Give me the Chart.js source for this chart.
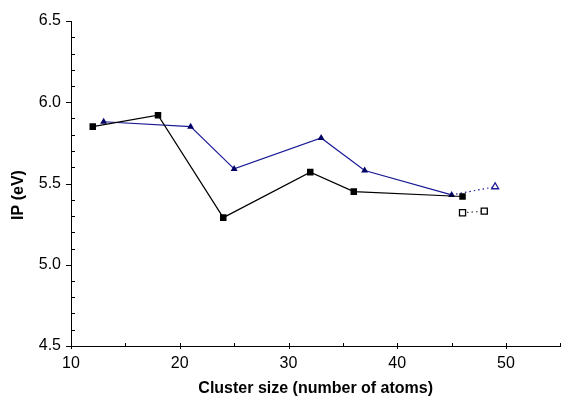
<!DOCTYPE html>
<html>
<head>
<meta charset="utf-8">
<script src="https://cdn.jsdelivr.net/npm/chart.js@4.4.1/dist/chart.umd.min.js"></script>
<style>
  html, body { margin: 0; padding: 0; background: #fff; }
  #wrap { width: 566px; height: 398px; }
</style>
</head>
<body>
<div id="wrap"><canvas id="chart"></canvas></div>
<script>
// black squares (filled) and open squares
const sizesSq = [12, 18, 24, 32, 36, 46];
const ipSq = [5.85, 5.92, 5.29, 5.57, 5.45, 5.42];
const sizesSqOpen = [46, 48];
const ipSqOpen = [5.32, 5.33];

// blue triangles (filled) and the dotted extension to the open one
const sizesTri = [13, 21, 25, 33, 37, 45];
const ipTri = [5.88, 5.85, 5.59, 5.78, 5.58, 5.43];
const sizesTriOpen = [45, 49];
const ipTriOpen = [5.43, 5.48];

const xTicks = [10, 20, 30, 40, 50];
const yTicks = [4.5, 5.0, 5.5, 6.0, 6.5];

const FONT = "'Liberation Sans', Arial, Helvetica, sans-serif";
const BLUE = "#1a1a96";

const toPoints = (xs, ys) => xs.map((x, i) => ({ x: x, y: ys[i] }));

// hand drawn tick marks: majors cross the axis, minors point inward
const tickMarks = {
  id: "tickMarks",
  afterDraw(chart) {
    const { ctx, scales: { x, y }, chartArea } = chart;
    ctx.save();
    ctx.strokeStyle = "#000";
    ctx.lineWidth = 1;
    ctx.beginPath();
    for (let i = 45; i <= 65; i++) {
      const py = Math.round(y.getPixelForValue(i / 10)) + 0.5;
      const left = chartArea.left;
      if (i % 5 === 0) {
        ctx.moveTo(left - 5, py);
        ctx.lineTo(left + 1, py);
      } else {
        ctx.moveTo(left, py);
        ctx.lineTo(left + 4, py);
      }
    }
    for (let v = 10; v <= 55; v += 5) {
      const px = Math.round(x.getPixelForValue(v)) + 0.5;
      const bottom = chartArea.bottom;
      if (v % 10 === 0) {
        ctx.moveTo(px, bottom - 3);
        ctx.lineTo(px, bottom + 3);
      } else {
        ctx.moveTo(px, bottom - 3);
        ctx.lineTo(px, bottom);
      }
    }
    ctx.stroke();

    // y axis title
    ctx.translate(19, 195);
    ctx.rotate(-Math.PI / 2);
    ctx.font = "bold 16px " + FONT;
    ctx.fillStyle = "#000";
    ctx.textAlign = "center";
    ctx.textBaseline = "middle";
    ctx.fillText("IP (eV)", 0, 0);
    ctx.restore();
  }
};

new Chart(document.getElementById("chart"), {
  type: "scatter",
  data: {
    datasets: [
      {
        data: toPoints(sizesSq, ipSq),
        showLine: true,
        borderColor: "#000",
        borderWidth: 1.2,
        backgroundColor: "#000",
        pointStyle: "rect",
        pointRadius: 4.6,
        pointBorderWidth: 0,
      },
      {
        data: toPoints(sizesTri, ipTri),
        showLine: true,
        borderColor: BLUE,
        borderWidth: 1.2,
        backgroundColor: "#000066",
        pointStyle: "triangle",
        pointRadius: 4,
        pointBorderWidth: 0,
      },
      {
        data: toPoints(sizesTriOpen, ipTriOpen),
        showLine: true,
        borderColor: BLUE,
        borderWidth: 1.2,
        borderDash: [1.5, 3],
        backgroundColor: "#fff",
        pointBorderColor: BLUE,
        pointStyle: "triangle",
        pointRadius: [0, 4],
        pointBorderWidth: 1.3,
      },
      {
        data: toPoints(sizesSqOpen, ipSqOpen),
        showLine: true,
        borderColor: "#444",
        borderWidth: 1.2,
        borderDash: [1.5, 3],
        backgroundColor: "#fff",
        pointBorderColor: "#000",
        pointStyle: "rect",
        pointRadius: 4.3,
        pointBorderWidth: 1.3,
      },
    ],
  },
  options: {
    responsive: true,
    maintainAspectRatio: false,
    animation: false,
    layout: { padding: { top: 21, right: 0, left: 0, bottom: 0 } },
    plugins: {
      legend: { display: false },
      tooltip: { enabled: false },
    },
    scales: {
      x: {
        type: "linear",
        min: 10,
        max: 55,
        afterBuildTicks: (scale) => {
          scale.ticks = xTicks.map((v) => ({ value: v }));
        },
        afterFit: (scale) => {
          scale.height = 52;
        },
        grid: { display: false, drawTicks: false },
        border: { display: true, color: "#000", width: 1 },
        ticks: {
          color: "#000",
          padding: 8,
          font: { family: FONT, size: 16 },
          maxRotation: 0,
        },
        title: {
          display: true,
          text: "Cluster size (number of atoms)",
          color: "#000",
          font: { family: FONT, size: 16, weight: "bold" },
          padding: { top: 0, bottom: 0 },
        },
      },
      y: {
        type: "linear",
        min: 4.5,
        max: 6.5,
        afterBuildTicks: (scale) => {
          scale.ticks = yTicks.map((v) => ({ value: v }));
        },
        afterFit: (scale) => {
          scale.width = 71;
        },
        grid: { display: false, drawTicks: false },
        border: { display: true, color: "#000", width: 1 },
        ticks: {
          color: "#000",
          padding: 10,
          font: { family: FONT, size: 16 },
          callback: (v) => Number(v).toFixed(1),
        },
      },
    },
  },
  plugins: [tickMarks],
});
</script>
</body>
</html>
